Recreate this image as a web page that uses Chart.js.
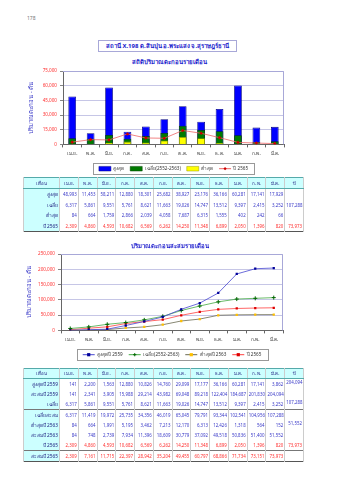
<!DOCTYPE html>
<html>
<head>
<meta charset="utf-8">
<script src="https://cdn.jsdelivr.net/npm/chart.js@4.4.1/dist/chart.umd.min.js"></script>
<style>
  body { margin: 0; width: 339px; height: 480px; overflow: hidden; position: relative; background: #fff;
         font-family: Tahoma, "Noto Sans", "DejaVu Sans", sans-serif; }
  .abs { position: absolute; }
  #pageNo { left: 27px; top: 15px; font-size: 5px; color: #777; }
  #station { left: 98px; top: 40px; width: 139px; height: 12px; box-sizing: border-box; border: 1px solid #a8a8d8;
             font-size: 6px; line-height: 10px; color: #1a1acc; text-align: center; font-weight: bold; }
  .ctitle { left: 0; width: 339px; text-align: center; font-size: 6px; color: #1a1acc; font-weight: bold; }
  table { position: absolute; left: 23px; width: 281px; border-collapse: collapse; table-layout: fixed;
          font-size: 4.4px; color: #3a3ac8; border-left: 1px solid #555; border-right: 1.5px solid #555;
          border-bottom: 1.5px solid #555; border-top: 1px solid #5aa; }
  td { padding: 0 1px; text-align: right; border-left: 1px solid #ccc; border-right: 1px solid #ccc;
       white-space: nowrap; overflow: hidden; }
  tr.head td { background: #ccffff; text-align: center; color: #202080; border-bottom: 1px solid #5aa; }
  td.lab { background: #ccffff; text-align: right; color: #202080; font-size: 4.8px; }
  tr.red td { color: #ff3030; }
  tr.red td.lab { color: #202080; }
  tr.sep td { border-top: 1px solid #777; }
  td.tot { vertical-align: top; }
  #t1 { top: 177px; }
  #t1 tr.head td { height: 10px; }
  #t1 tr.row td { height: 10.6px; }
  #t2 { top: 368px; }
  #t2 tr.head td { height: 9px; }
  #t2 tr.row td { height: 10px; }
  canvas { position: absolute; left: 0; }
</style>
</head>
<body>
<div id="pageNo" class="abs">178</div>
<div id="station" class="abs">สถานี X.198 ต.สินปุน อ.พระแสง จ.สุราษฎร์ธานี</div>
<div class="abs ctitle" style="top:57px">สถิติปริมาณตะกอนรายเดือน</div>
<div style="position:absolute;left:0;top:56px;width:339px;height:128px"><canvas id="c1"></canvas></div>
<table id="t1"></table>
<div class="abs ctitle" style="top:241px">ปริมาณตะกอนสะสมรายเดือน</div>
<div style="position:absolute;left:0;top:246px;width:339px;height:124px"><canvas id="c2"></canvas></div>
<table id="t2"></table>

<script>
// ---- data (tons) ----
const months = ['เม.ย.', 'พ.ค.', 'มิ.ย.', 'ก.ค.', 'ส.ค.', 'ก.ย.', 'ต.ค.', 'พ.ย.', 'ธ.ค.', 'ม.ค.', 'ก.พ.', 'มี.ค.'];

const maxSed = [48993, 11453, 58211, 12880, 18301, 25682, 38927, 23176, 36166, 60281, 17141, 17929];
const avgSed = [6317, 5861, 9551, 5761, 8621, 11663, 19026, 14747, 13512, 9397, 2415, 3252];
const minSed = [84, 664, 1759, 2866, 2039, 4058, 7687, 6315, 1555, 402, 242, 66];
const sed2565 = [2309, 4860, 4593, 10682, 6569, 6262, 14250, 11348, 6899, 2050, 1396, 820];

const max2559 = [141, 2200, 1563, 12880, 10826, 14760, 29099, 17177, 36166, 60281, 17141, 3862];
const cumMax2559 = [141, 2341, 3905, 15988, 29214, 43982, 69048, 89218, 122404, 184687, 201830, 204094];
const cumAvg = [6317, 11419, 19972, 25735, 34356, 46019, 65045, 79791, 93344, 102541, 104956, 107288];
const min2563 = [84, 664, 1991, 5195, 3462, 7213, 12170, 6313, 12426, 1318, 564, 152];
const cumMin2563 = [84, 748, 2739, 7934, 11396, 18609, 30779, 37092, 49518, 50836, 51400, 51552];
const cum2565 = [2309, 7161, 11715, 22397, 28942, 35204, 49455, 60797, 68866, 71734, 73151, 73973];

const total2559 = 204094, totalAvg = 107288, total2563 = 51552, total2565 = 73973;

const ticks1 = [0, 15000, 30000, 45000, 60000, 75000];
const ticks2 = [0, 50000, 100000, 150000, 200000, 250000];

// ---- tables ----
const fmt = v => v === '' || v == null ? '' : Number(v).toLocaleString('en-US');

function buildTable(id, rows) {
  const t = document.getElementById(id);
  let html = '<tr class="head"><td style="width:33px">เดือน</td>' +
    months.map(m => '<td>' + m + '</td>').join('') + '<td>ปี</td></tr>';
  rows.forEach(r => {
    html += '<tr class="row ' + (r.cls || '') + '"><td class="lab">' + r.label + '</td>' +
      r.values.map(v => '<td>' + fmt(v) + '</td>').join('');
    if (r.span) html += '<td class="tot" rowspan="' + r.span + '">' + fmt(r.total) + '</td>';
    else if (!r.skip) html += '<td>' + fmt(r.total) + '</td>';
    html += '</tr>';
  });
  t.innerHTML = html;
}

buildTable('t1', [
  { label: 'สูงสุด', values: maxSed, total: '' },
  { label: 'เฉลี่ย', values: avgSed, total: totalAvg },
  { label: 'ต่ำสุด', values: minSed, total: '' },
  { label: 'ปี 2565', values: sed2565, total: total2565, cls: 'red' }
]);

buildTable('t2', [
  { label: 'สูงสุดปี 2559', values: max2559, total: total2559, span: 2 },
  { label: 'สะสมปี 2559', values: cumMax2559, skip: true },
  { label: 'เฉลี่ย', values: avgSed, total: totalAvg, span: 1 },
  { label: 'เฉลี่ยสะสม', values: cumAvg, total: '', cls: 'sep' },
  { label: 'ต่ำสุดปี 2563', values: min2563, total: total2563, span: 2 },
  { label: 'สะสมปี 2563', values: cumMin2563, skip: true },
  { label: 'ปี 2565', values: sed2565, total: total2565, cls: 'red' },
  { label: 'สะสมปี 2565', values: cum2565, total: '', cls: 'red sep' }
]);

// ---- charts ----
Chart.defaults.font.family = 'Tahoma, "Noto Sans", "DejaVu Sans", sans-serif';
Chart.defaults.font.size = 5;
Chart.defaults.color = '#333';
Chart.defaults.animation = false;

function drawMarker(ctx, style, x, y, r, fill, stroke) {
  ctx.save();
  ctx.fillStyle = fill; ctx.strokeStyle = stroke; ctx.lineWidth = 1;
  ctx.beginPath();
  if (style === 'rectRot') {
    ctx.moveTo(x, y - r); ctx.lineTo(x + r, y); ctx.lineTo(x, y + r); ctx.lineTo(x - r, y); ctx.closePath();
    ctx.fill();
  } else if (style === 'cross') {
    ctx.moveTo(x - r, y); ctx.lineTo(x + r, y); ctx.moveTo(x, y - r); ctx.lineTo(x, y + r); ctx.stroke();
  } else {
    ctx.rect(x - r, y - r, 2 * r, 2 * r); ctx.fill();
  }
  ctx.restore();
}

// box round the legend, marker on line swatches, frame round the plot
const framePlugin = {
  id: 'frame',
  afterDraw(chart) {
    const ctx = chart.ctx, a = chart.chartArea;
    ctx.save();
    ctx.strokeStyle = '#a8a8d8'; ctx.lineWidth = 1;
    ctx.beginPath();
    ctx.moveTo(a.left, a.top + 0.5); ctx.lineTo(a.right - 0.5, a.top + 0.5); ctx.lineTo(a.right - 0.5, a.bottom);
    ctx.stroke();
    const lg = chart.legend, hb = lg.legendHitBoxes;
    if (hb && hb.length) {
      const l = Math.min(...hb.map(b => b.left)) - 6;
      const r = Math.max(...hb.map(b => b.left + b.width)) + 6;
      const t = Math.min(...hb.map(b => b.top)) - 3;
      const btm = Math.max(...hb.map(b => b.top + b.height)) + 3;
      ctx.strokeStyle = '#999'; ctx.strokeRect(Math.round(l) + 0.5, Math.round(t) + 0.5, Math.round(r - l), Math.round(btm - t));
      lg.legendItems.forEach((it, i) => {
        const ds = chart.data.datasets[it.datasetIndex];
        if (ds.type === 'line' || chart.config.type === 'line') {
          const b = hb[i];
          drawMarker(ctx, ds.pointStyle, b.left + 6, b.top + b.height / 2, 1.6, ds.pointBackgroundColor, ds.pointBorderColor);
        }
      });
    }
    ctx.restore();
  }
};

function legendOpts() {
  return {
    position: 'bottom',
    fullSize: false,
    labels: {
      usePointStyle: true,
      pointStyleWidth: 12,
      boxHeight: 5,
      padding: 6,
      color: '#333',
      font: { size: 4.6 },
      sort: (a, b) => a.datasetIndex - b.datasetIndex,
      generateLabels(chart) {
        const items = Chart.defaults.plugins.legend.labels.generateLabels(chart);
        items.forEach(it => {
          const ds = chart.data.datasets[it.datasetIndex];
          const isLine = ds.type === 'line' || chart.config.type === 'line';
          it.pointStyle = isLine ? 'line' : 'rect';
          if (isLine) { it.strokeStyle = ds.borderColor; it.lineWidth = 1; }
          else { it.fillStyle = ds.backgroundColor; it.strokeStyle = ds.borderColor; it.lineWidth = 0.5; }
        });
        return items;
      }
    }
  };
}

function yScale(max, step, width, tickList) {
  return {
    min: 0, max: max,
    afterFit: s => { s.width = width; },
    afterBuildTicks: s => { s.ticks = tickList.map(v => ({ value: v })); },
    ticks: { color: '#ff3030', padding: 3, font: { size: 4.6 }, callback: v => Number(v).toLocaleString('en-US') },
    grid: { color: '#b8b8e0', lineWidth: 0.8, tickLength: 3, tickColor: '#666' },
    border: { color: '#666', width: 1 },
    title: { display: true, text: 'ปริมาณตะกอน - ตัน', color: '#3a3ac8', font: { size: 6 }, padding: 0 }
  };
}

function xScale(height) {
  return {
    afterFit: s => { s.height = height; },
    ticks: { color: '#333', padding: 4, font: { size: 4.6 }, maxRotation: 0, autoSkip: false },
    grid: { offset: true, drawOnChartArea: false, tickLength: 3, tickColor: '#666' },
    border: { color: '#666', width: 1 }
  };
}

new Chart(document.getElementById('c1'), {
  type: 'bar',
  data: {
    labels: months,
    datasets: [
      { label: 'สูงสุด', data: maxSed, backgroundColor: '#0000ff', borderColor: '#000080', borderWidth: 0.8, order: 4 },
      { label: 'เฉลี่ย(2552-2563)', data: avgSed, backgroundColor: '#007a00', borderColor: '#004000', borderWidth: 0.8, order: 3 },
      { label: 'ต่ำสุด', data: minSed, backgroundColor: '#ffff00', borderColor: '#999900', borderWidth: 0.8, order: 2 },
      { type: 'line', label: 'ปี 2565', data: sed2565, borderColor: '#ee6666', borderWidth: 0.8,
        pointStyle: 'rectRot', pointRadius: 1.8, pointBackgroundColor: '#cc0000', pointBorderColor: '#cc0000',
        pointBorderWidth: 0, tension: 0, order: 1 }
    ]
  },
  options: {
    responsive: true, maintainAspectRatio: false,
    datasets: { bar: { grouped: false, barPercentage: 0.42, categoryPercentage: 1 } },
    layout: { padding: { left: 28, right: 55, top: 15, bottom: 3 } },
    scales: { x: xScale(16), y: yScale(75000, 15000, 35, ticks1) },
    plugins: { legend: legendOpts(), tooltip: { enabled: false } }
  },
  plugins: [framePlugin]
});

new Chart(document.getElementById('c2'), {
  type: 'line',
  data: {
    labels: months,
    datasets: [
      { label: 'สูงสุดปี 2559', data: cumMax2559, borderColor: '#4848d0', borderWidth: 0.8, pointStyle: 'rect',
        pointRadius: 1.6, pointBackgroundColor: '#000099', pointBorderColor: '#000099', pointBorderWidth: 0 },
      { label: 'เฉลี่ย(2552-2563)', data: cumAvg, borderColor: '#44aa44', borderWidth: 0.8, pointStyle: 'cross',
        pointRadius: 2, pointBackgroundColor: '#006600', pointBorderColor: '#006600', pointBorderWidth: 1 },
      { label: 'ต่ำสุดปี 2563', data: cumMin2563, borderColor: '#6a6a50', borderWidth: 0.8, pointStyle: 'rect',
        pointRadius: 1.6, pointBackgroundColor: '#ffc000', pointBorderColor: '#ffc000', pointBorderWidth: 0 },
      { label: 'ปี 2565', data: cum2565, borderColor: '#ff4040', borderWidth: 0.8, pointStyle: 'rect',
        pointRadius: 1.6, pointBackgroundColor: '#dd0000', pointBorderColor: '#dd0000', pointBorderWidth: 0 }
    ]
  },
  options: {
    responsive: true, maintainAspectRatio: false,
    layout: { padding: { left: 26, right: 56, top: 8, bottom: 3 } },
    scales: { x: Object.assign(xScale(16), { offset: true }), y: yScale(250000, 50000, 35, ticks2) },
    plugins: { legend: legendOpts(), tooltip: { enabled: false } }
  },
  plugins: [framePlugin]
});
</script>
</body>
</html>
